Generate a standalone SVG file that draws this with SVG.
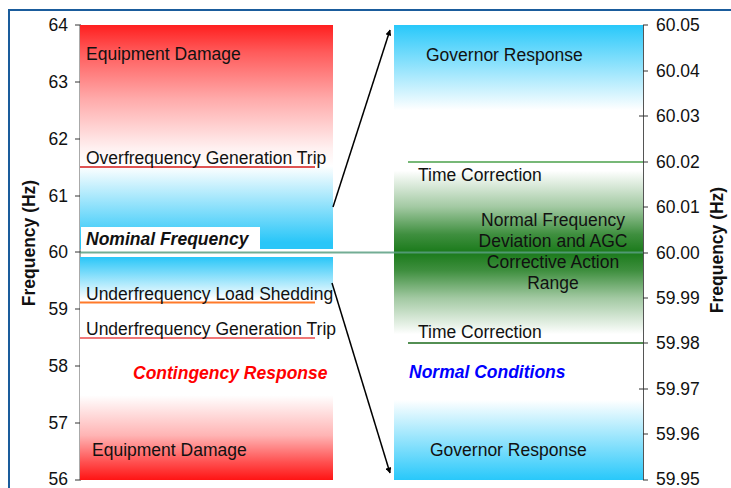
<svg xmlns="http://www.w3.org/2000/svg" width="731" height="488" viewBox="0 0 731 488">
<style>
text{font-family:"Liberation Sans",Arial,sans-serif;font-size:17.5px;fill:#111}
.bi{font-weight:bold;font-style:italic}
.ax{stroke:#555;stroke-width:1;fill:none}
.tick{stroke:#333;stroke-width:1}
.conn{stroke:#000;stroke-width:1.5;fill:none;marker-end:url(#ah)}
</style>
<defs>
<linearGradient id="gUp" x1="0" y1="0" x2="0" y2="1">
<stop offset="0" stop-color="#ff1f1f"/>
<stop offset="0.12" stop-color="#ff5a5a"/>
<stop offset="0.33" stop-color="#ffaaaa"/>
<stop offset="0.55" stop-color="#fff0f0"/>
<stop offset="0.63" stop-color="#ffffff"/>
<stop offset="0.97" stop-color="#29c6f8"/>
<stop offset="1" stop-color="#29c6f8"/>
</linearGradient>
<linearGradient id="gLow" x1="0" y1="0" x2="0" y2="1">
<stop offset="0" stop-color="#29c6f8"/>
<stop offset="0.19" stop-color="#ffffff"/>
<stop offset="0.62" stop-color="#ffffff"/>
<stop offset="0.8" stop-color="#ffb4b4"/>
<stop offset="0.92" stop-color="#ff5050"/>
<stop offset="1" stop-color="#ff1414"/>
</linearGradient>
<linearGradient id="gR" x1="0" y1="0" x2="0" y2="1">
<stop offset="0" stop-color="#28c8fa"/>
<stop offset="0.187" stop-color="#ffffff"/>
<stop offset="0.32" stop-color="#ffffff"/>
<stop offset="0.40" stop-color="#a2c9a2"/>
<stop offset="0.46" stop-color="#3f8f3f"/>
<stop offset="0.5" stop-color="#1a7a1a"/>
<stop offset="0.54" stop-color="#3f8f3f"/>
<stop offset="0.60" stop-color="#a2c9a2"/>
<stop offset="0.68" stop-color="#ffffff"/>
<stop offset="0.824" stop-color="#ffffff"/>
<stop offset="1" stop-color="#28c8fa"/>
</linearGradient>
<marker id="ah" viewBox="0 0 10 10" refX="9" refY="5" markerWidth="6" markerHeight="6" orient="auto" markerUnits="userSpaceOnUse">
<path d="M0,0 L10,5 L0,10 z" fill="#000"/>
</marker>
</defs>
<rect x="9" y="10" width="800" height="600" fill="#fff" stroke="#1a5c9c" stroke-width="2"/>

<g id="left-axis">
<line class="ax" x1="80" y1="25" x2="80" y2="480"/>
<g class="tick">
<line x1="75" y1="25" x2="81" y2="25"/><line x1="75" y1="82" x2="81" y2="82"/>
<line x1="75" y1="139" x2="81" y2="139"/><line x1="75" y1="196" x2="81" y2="196"/>
<line x1="75" y1="252" x2="81" y2="252"/><line x1="75" y1="309" x2="81" y2="309"/>
<line x1="75" y1="366" x2="81" y2="366"/><line x1="75" y1="423" x2="81" y2="423"/>
<line x1="75" y1="480" x2="81" y2="480"/>
</g>
<g text-anchor="end">
<text x="68" y="31">64</text><text x="68" y="88">63</text><text x="68" y="145">62</text>
<text x="68" y="202">61</text><text x="68" y="258">60</text><text x="68" y="315">59</text>
<text x="68" y="372">58</text><text x="68" y="429">57</text><text x="68" y="485">56</text>
</g>
<text transform="translate(35,243) rotate(-90)" text-anchor="middle" font-weight="bold">Frequency (Hz)</text>
</g>

<g id="contingency-panel">
<rect x="80" y="25" width="253" height="224" fill="url(#gUp)"/>
<rect x="80" y="257" width="253" height="223" fill="url(#gLow)"/>
<text x="86" y="60">Equipment Damage</text>
<line x1="80" y1="167" x2="315" y2="167" stroke="#d41a1a" stroke-width="1.5"/>
<text x="86" y="164">Overfrequency Generation Trip</text>
<line x1="80" y1="302.5" x2="315" y2="302.5" stroke="#ff7a2a" stroke-width="2"/>
<text x="86" y="300">Underfrequency Load Shedding</text>
<line x1="80" y1="338" x2="315" y2="338" stroke="#f07878" stroke-width="2"/>
<text x="86" y="335">Underfrequency Generation Trip</text>
<text x="133" y="379" class="bi" style="fill:#ff0000">Contingency Response</text>
<text x="92" y="456">Equipment Damage</text>
</g>

<g id="normal-panel">
<rect x="394" y="25" width="249" height="455" fill="url(#gR)"/>
<text x="426" y="61">Governor Response</text>
<line x1="408" y1="162" x2="643" y2="162" stroke="#4aa04a" stroke-width="1.5"/>
<text x="418" y="181">Time Correction</text>
<g text-anchor="middle">
<text x="553" y="226">Normal Frequency</text>
<text x="553" y="247">Deviation and AGC</text>
<text x="553" y="268">Corrective Action</text>
<text x="553" y="289">Range</text>
</g>
<line x1="408" y1="343" x2="643" y2="343" stroke="#1a6a1a" stroke-width="1.5"/>
<text x="418" y="338">Time Correction</text>
<text x="409" y="378" class="bi" style="fill:#0000ff">Normal Conditions</text>
<text x="430" y="456">Governor Response</text>
</g>

<g id="nominal">
<rect x="81" y="227" width="179" height="23" fill="#fff"/>
<text x="86" y="245" class="bi">Nominal Frequency</text>
<line x1="80" y1="252.5" x2="643" y2="252.5" stroke="#5a9f82" stroke-width="2" stroke-opacity="0.85"/>
</g>

<g id="right-axis">
<line class="ax" x1="643.5" y1="25" x2="643.5" y2="480"/>
<g class="tick">
<line x1="643" y1="25" x2="648" y2="25"/><line x1="643" y1="71" x2="648" y2="71"/>
<line x1="639" y1="116" x2="648" y2="116"/><line x1="643" y1="162" x2="648" y2="162"/>
<line x1="643" y1="207" x2="648" y2="207"/><line x1="643" y1="253" x2="648" y2="253"/>
<line x1="643" y1="298" x2="648" y2="298"/><line x1="643" y1="343" x2="648" y2="343"/>
<line x1="639" y1="389" x2="648" y2="389"/><line x1="643" y1="434" x2="648" y2="434"/>
<line x1="643" y1="480" x2="648" y2="480"/>
</g>
<text x="656" y="31">60.05</text><text x="656" y="77">60.04</text><text x="656" y="122">60.03</text>
<text x="656" y="168">60.02</text><text x="656" y="213">60.01</text><text x="656" y="259">60.00</text>
<text x="656" y="304">59.99</text><text x="656" y="349">59.98</text><text x="656" y="395">59.97</text>
<text x="656" y="440">59.96</text><text x="656" y="485">59.95</text>
<text transform="translate(723,250) rotate(-90)" text-anchor="middle" font-weight="bold">Frequency (Hz)</text>
</g>

<g id="connectors">
<line class="conn" x1="333" y1="207" x2="390" y2="30"/>
<line class="conn" x1="332" y1="283" x2="390" y2="473"/>
</g>
</svg>
